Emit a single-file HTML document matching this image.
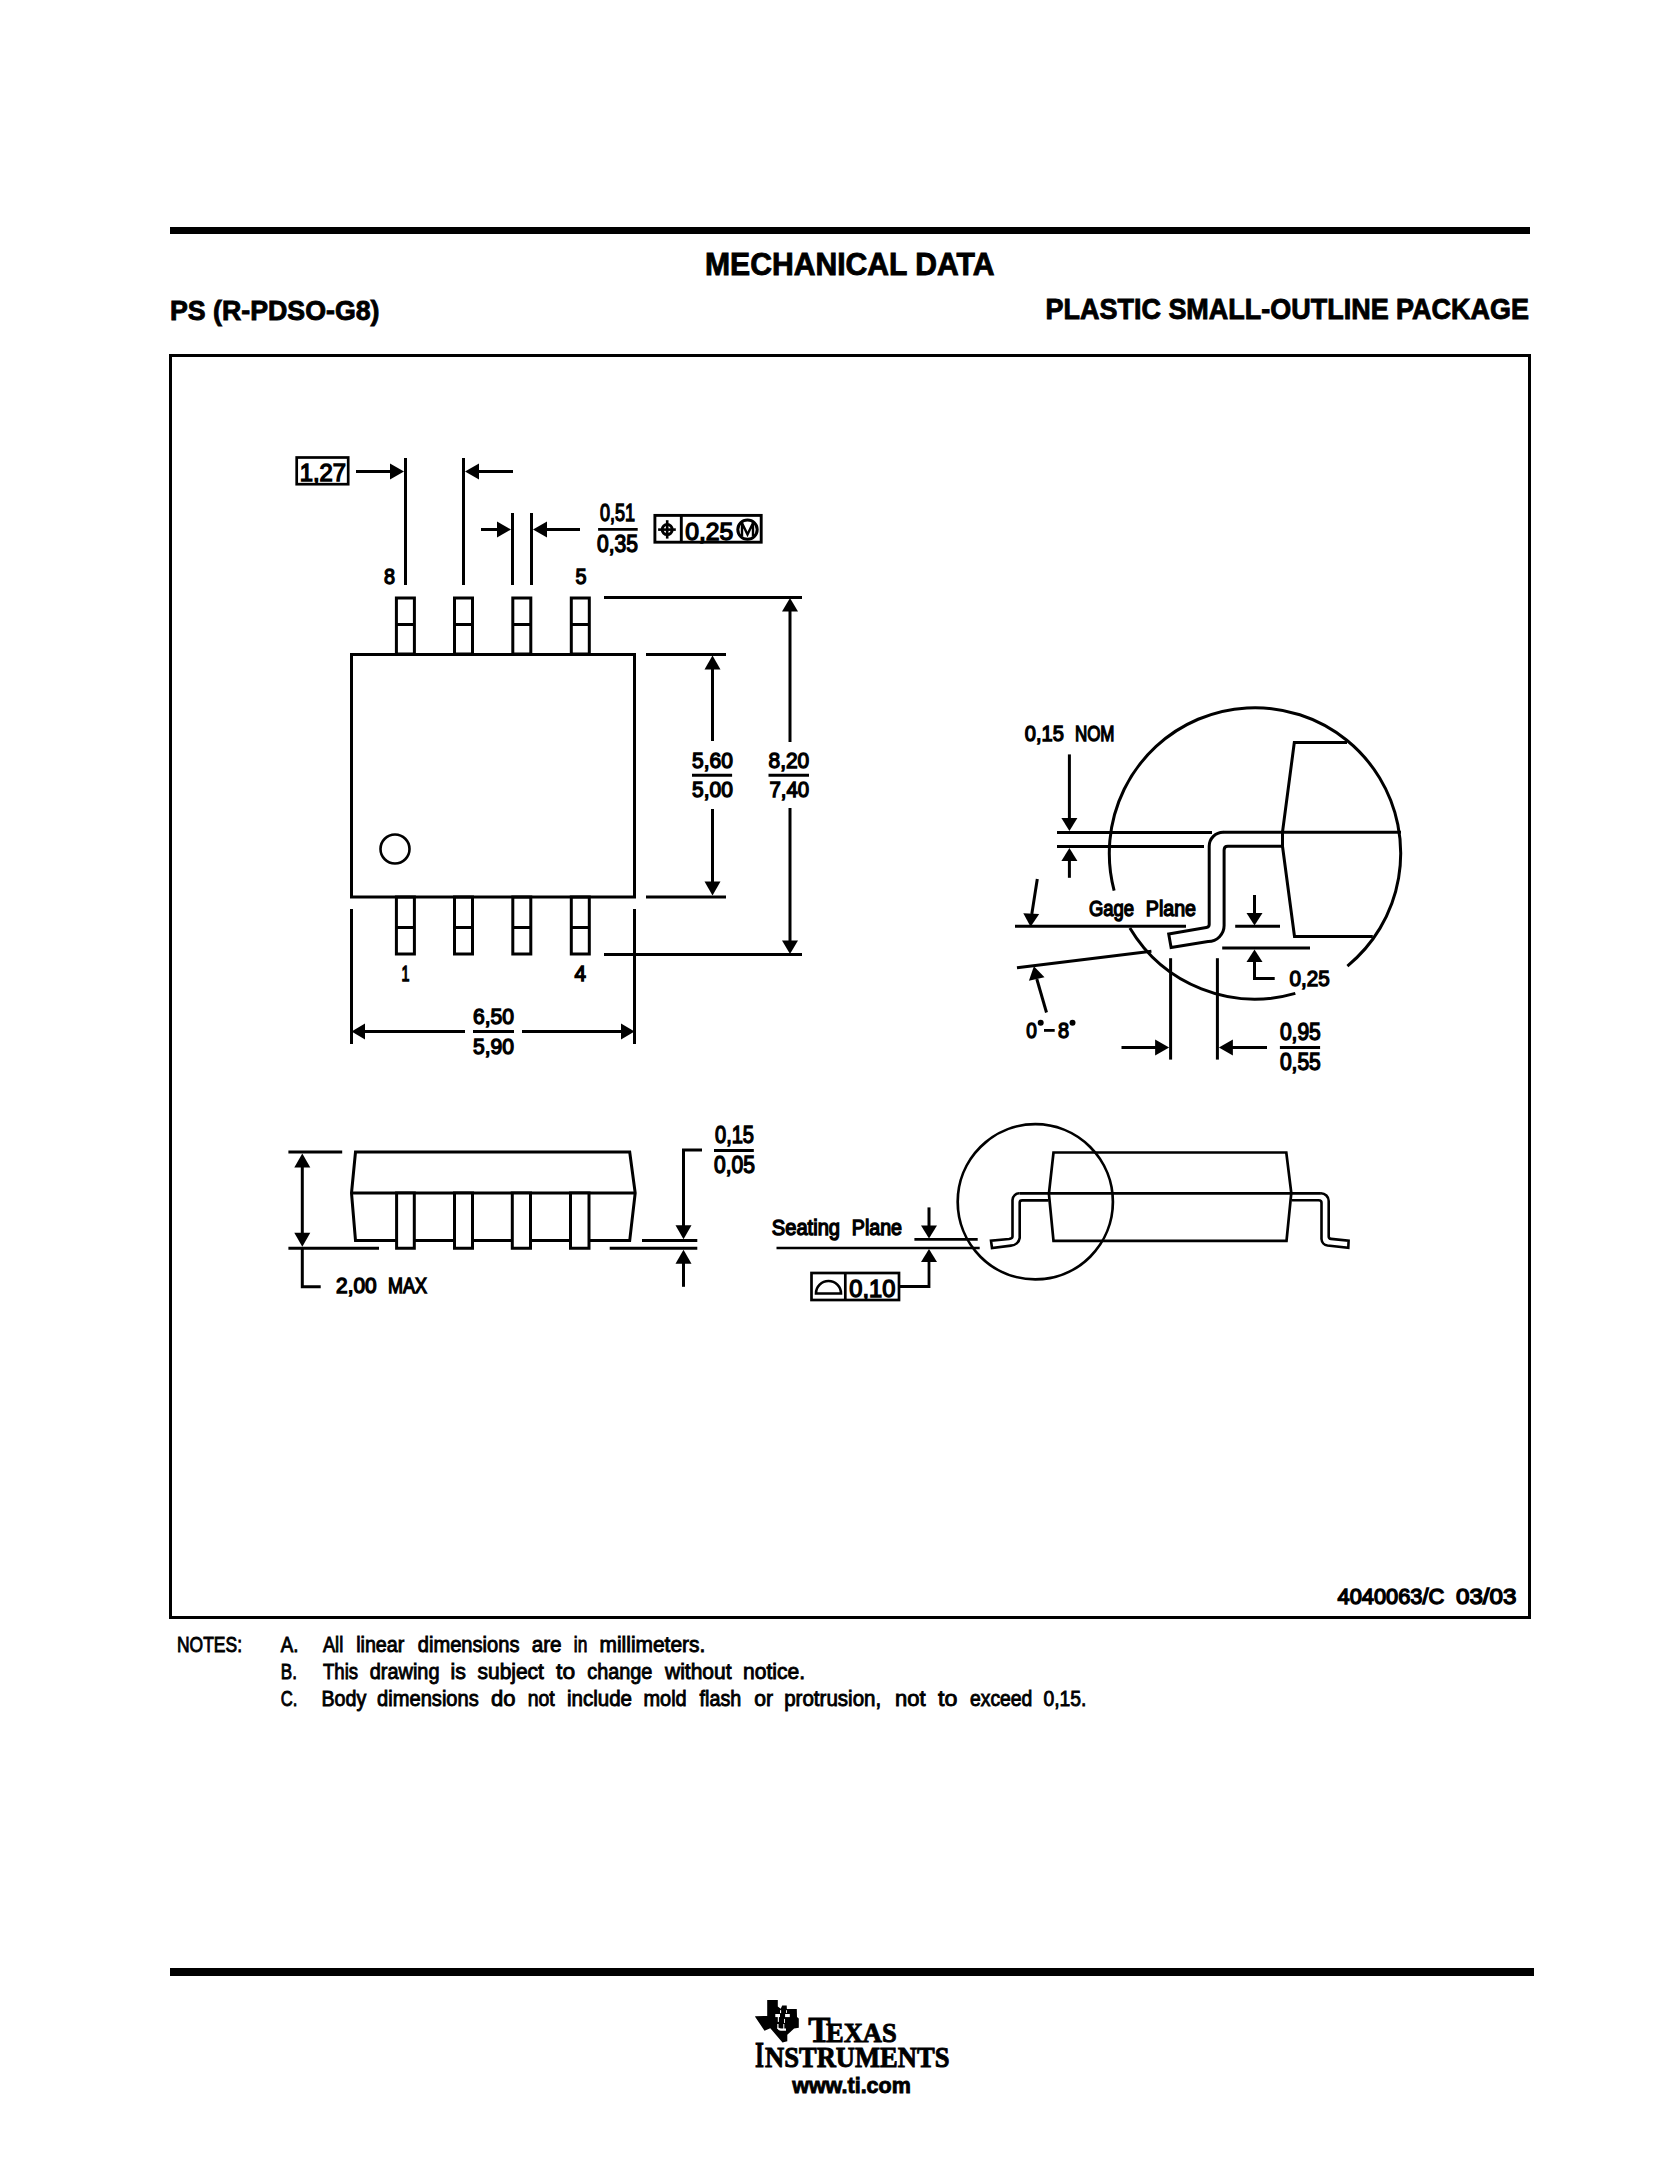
<!DOCTYPE html>
<html><head><meta charset="utf-8"><style>
html,body{margin:0;padding:0;background:#fff;}
svg{display:block;}
.t{font-family:"Liberation Sans",sans-serif;fill:#000;stroke:#000;stroke-width:1.4px;}
.n{stroke-width:0.9px;}
.h{font-family:"Liberation Sans",sans-serif;font-weight:bold;fill:#000;stroke:#000;stroke-width:0.9px;}
.s{font-family:"Liberation Serif",serif;font-weight:bold;fill:#000;stroke:#000;stroke-width:0.9px;}
</style></head><body>
<svg width="1659" height="2159" viewBox="0 0 1659 2159" stroke="#000" stroke-linecap="butt" stroke-linejoin="miter">
<rect x="170" y="227" width="1360" height="7" fill="#000" stroke="none"/>
<text class="h" x="705" y="274.5" font-size="31.5" text-anchor="start" textLength="289.5" lengthAdjust="spacingAndGlyphs">MECHANICAL DATA</text>
<text class="h" x="170" y="320" font-size="28" text-anchor="start" textLength="209.5" lengthAdjust="spacingAndGlyphs">PS (R-PDSO-G8)</text>
<text class="h" x="1045.5" y="319.2" font-size="29.5" text-anchor="start" textLength="483.5" lengthAdjust="spacingAndGlyphs">PLASTIC SMALL-OUTLINE PACKAGE</text>
<rect x="170.5" y="355.5" width="1359" height="1262" fill="none" stroke-width="3.0"/>
<rect x="170" y="1968" width="1364" height="8" fill="#000" stroke="none"/>
<rect x="396.4" y="598" width="18" height="56" fill="none" stroke-width="3.0"/>
<line x1="396.4" y1="624.5" x2="414.4" y2="624.5" stroke-width="3.0"/>
<rect x="396.4" y="897" width="18" height="57" fill="none" stroke-width="3.0"/>
<line x1="396.4" y1="927.5" x2="414.4" y2="927.5" stroke-width="3.0"/>
<rect x="454.5" y="598" width="18" height="56" fill="none" stroke-width="3.0"/>
<line x1="454.5" y1="624.5" x2="472.5" y2="624.5" stroke-width="3.0"/>
<rect x="454.5" y="897" width="18" height="57" fill="none" stroke-width="3.0"/>
<line x1="454.5" y1="927.5" x2="472.5" y2="927.5" stroke-width="3.0"/>
<rect x="512.8" y="598" width="18" height="56" fill="none" stroke-width="3.0"/>
<line x1="512.8" y1="624.5" x2="530.8" y2="624.5" stroke-width="3.0"/>
<rect x="512.8" y="897" width="18" height="57" fill="none" stroke-width="3.0"/>
<line x1="512.8" y1="927.5" x2="530.8" y2="927.5" stroke-width="3.0"/>
<rect x="571.3" y="598" width="18" height="56" fill="none" stroke-width="3.0"/>
<line x1="571.3" y1="624.5" x2="589.3" y2="624.5" stroke-width="3.0"/>
<rect x="571.3" y="897" width="18" height="57" fill="none" stroke-width="3.0"/>
<line x1="571.3" y1="927.5" x2="589.3" y2="927.5" stroke-width="3.0"/>
<rect x="351.5" y="654.5" width="283" height="242.5" fill="none" stroke-width="3.0"/>
<circle cx="395" cy="849" r="14.5" fill="none" stroke-width="2.6"/>
<text class="t" x="384" y="584" font-size="22.3" text-anchor="start" textLength="11" lengthAdjust="spacingAndGlyphs">8</text>
<text class="t" x="575.5" y="584" font-size="22.3" text-anchor="start" textLength="11" lengthAdjust="spacingAndGlyphs">5</text>
<text class="t" x="401.5" y="980.6" font-size="22.3" text-anchor="start" textLength="8" lengthAdjust="spacingAndGlyphs">1</text>
<text class="t" x="574.5" y="980.6" font-size="22.3" text-anchor="start" textLength="11.5" lengthAdjust="spacingAndGlyphs">4</text>
<rect x="296.7" y="457.5" width="51.5" height="26.7" fill="none" stroke-width="2.7"/>
<text class="t" x="299.8" y="481.3" font-size="24" text-anchor="start" textLength="46.2" lengthAdjust="spacingAndGlyphs">1,27</text>
<line x1="405.5" y1="458" x2="405.5" y2="585" stroke-width="3.0"/>
<line x1="463.5" y1="458" x2="463.5" y2="585" stroke-width="3.0"/>
<line x1="356" y1="471.5" x2="392" y2="471.5" stroke-width="3.0"/>
<polygon points="404,471.5 390.0,479.5 390.0,463.5" fill="#000" stroke="none"/>
<line x1="477" y1="471.5" x2="513" y2="471.5" stroke-width="3.0"/>
<polygon points="465,471.5 479.0,463.5 479.0,479.5" fill="#000" stroke="none"/>
<line x1="512.5" y1="513" x2="512.5" y2="585" stroke-width="3.0"/>
<line x1="531.5" y1="513" x2="531.5" y2="585" stroke-width="3.0"/>
<line x1="481" y1="529.5" x2="500" y2="529.5" stroke-width="3.0"/>
<polygon points="511,529.5 497.0,537.5 497.0,521.5" fill="#000" stroke="none"/>
<line x1="544" y1="529.5" x2="580" y2="529.5" stroke-width="3.0"/>
<polygon points="533,529.5 547.0,521.5 547.0,537.5" fill="#000" stroke="none"/>
<text class="t" x="600" y="521.3" font-size="24.3" text-anchor="start" textLength="35" lengthAdjust="spacingAndGlyphs">0,51</text>
<line x1="598.1" y1="529.4" x2="637.7" y2="529.4" stroke-width="2.9"/>
<text class="t" x="597" y="551.5" font-size="24.3" text-anchor="start" textLength="40.9" lengthAdjust="spacingAndGlyphs">0,35</text>
<rect x="654.9" y="515.4" width="106.3" height="26.8" fill="none" stroke-width="2.9"/>
<line x1="681.3" y1="515.4" x2="681.3" y2="542.2" stroke-width="2.9"/>
<circle cx="667.2" cy="529.6" r="5" fill="none" stroke-width="3"/>
<line x1="667.2" y1="520.2" x2="667.2" y2="538.6" stroke-width="2.6"/>
<line x1="658.1" y1="529.6" x2="675.8" y2="529.6" stroke-width="2.6"/>
<text class="t" x="685.3" y="539.7" font-size="24.5" text-anchor="start" textLength="48" lengthAdjust="spacingAndGlyphs">0,25</text>
<circle cx="747.5" cy="529.6" r="9.7" fill="none" stroke-width="3"/>
<polyline points="742,536 742,523 747.5,534.5 753,523 753,536" fill="none" stroke-width="2.4"/>
<line x1="604" y1="597.5" x2="802" y2="597.5" stroke-width="3.0"/>
<line x1="646" y1="654.5" x2="726" y2="654.5" stroke-width="3.0"/>
<line x1="646" y1="897" x2="726" y2="897" stroke-width="3.0"/>
<line x1="604" y1="954.5" x2="802" y2="954.5" stroke-width="3.0"/>
<line x1="712.5" y1="668" x2="712.5" y2="741" stroke-width="3.0"/>
<polygon points="712.5,655.5 720.5,669.5 704.5,669.5" fill="#000" stroke="none"/>
<line x1="712.5" y1="809" x2="712.5" y2="883" stroke-width="3.0"/>
<polygon points="712.5,895.5 704.5,881.5 720.5,881.5" fill="#000" stroke="none"/>
<line x1="790" y1="610" x2="790" y2="742" stroke-width="3.0"/>
<polygon points="790,598 798.0,611.5 782.0,611.5" fill="#000" stroke="none"/>
<line x1="790" y1="808" x2="790" y2="941" stroke-width="3.0"/>
<polygon points="790,954 782.0,940.5 798.0,940.5" fill="#000" stroke="none"/>
<text class="t" x="692" y="768.4" font-size="22.9" text-anchor="start" textLength="40.8" lengthAdjust="spacingAndGlyphs">5,60</text>
<line x1="692" y1="775.3" x2="732.1" y2="775.3" stroke-width="2.9"/>
<text class="t" x="692" y="797.4" font-size="22.9" text-anchor="start" textLength="40.8" lengthAdjust="spacingAndGlyphs">5,00</text>
<text class="t" x="768.5" y="768.4" font-size="22.9" text-anchor="start" textLength="40.7" lengthAdjust="spacingAndGlyphs">8,20</text>
<line x1="768.5" y1="775.3" x2="809" y2="775.3" stroke-width="2.9"/>
<text class="t" x="769.5" y="797.4" font-size="22.9" text-anchor="start" textLength="39.7" lengthAdjust="spacingAndGlyphs">7,40</text>
<line x1="351.5" y1="909" x2="351.5" y2="1044" stroke-width="3.0"/>
<line x1="634.5" y1="909" x2="634.5" y2="1044" stroke-width="3.0"/>
<line x1="364" y1="1031.5" x2="465" y2="1031.5" stroke-width="3.0"/>
<polygon points="351.5,1031.5 365.0,1023.5 365.0,1039.5" fill="#000" stroke="none"/>
<line x1="522" y1="1031.5" x2="622" y2="1031.5" stroke-width="3.0"/>
<polygon points="634.5,1031.5 621.0,1039.5 621.0,1023.5" fill="#000" stroke="none"/>
<text class="t" x="473" y="1024.1" font-size="22.9" text-anchor="start" textLength="41" lengthAdjust="spacingAndGlyphs">6,50</text>
<line x1="473" y1="1031.5" x2="514" y2="1031.5" stroke-width="2.9"/>
<text class="t" x="473" y="1054" font-size="22.9" text-anchor="start" textLength="41" lengthAdjust="spacingAndGlyphs">5,90</text>
<path d="M1114.12,890.57 A145.7,145.7 0 1 1 1347.40,966.05" fill="none" stroke-width="3.0"/>
<path d="M1295.33,993.41 A145.7,145.7 0 0 1 1129.86,928.02" fill="none" stroke-width="3.0"/>
<polyline points="1347,742.6 1294.3,742.6 1282.5,832 1282.5,846.3 1294.5,936.5 1372.8,936.5" fill="none" stroke-width="3.0"/>
<line x1="1223" y1="832.3" x2="1401" y2="832.3" stroke-width="3.0"/>
<path d="M1223.2,832.3 A14,14 0 0 0 1209.2,846.3 L1209.2,924.4 Q1209.2,927 1206.3,927.5 L1168.7,934 L1171.1,947.5 L1208,941.5 A16,16 0 0 0 1224.1,925 L1224.1,850.1 Q1224.1,846.3 1227.8,846.3 L1282.5,846.3" fill="none" stroke-width="3.0"/>
<line x1="1057" y1="832.5" x2="1212" y2="832.5" stroke-width="3.0"/>
<line x1="1057" y1="846.5" x2="1204" y2="846.5" stroke-width="3.0"/>
<line x1="1069.4" y1="754.4" x2="1069.4" y2="819" stroke-width="3.0"/>
<polygon points="1069.4,831 1061.4,818.0 1077.4,818.0" fill="#000" stroke="none"/>
<line x1="1069.4" y1="858" x2="1069.4" y2="877.8" stroke-width="3.0"/>
<polygon points="1069.4,847.9 1077.4,860.9 1061.4,860.9" fill="#000" stroke="none"/>
<text class="t" x="1024.8" y="741.3" font-size="22.3" text-anchor="start" textLength="39" lengthAdjust="spacingAndGlyphs">0,15</text>
<text class="t" x="1074.9" y="741.3" font-size="22.3" text-anchor="start" textLength="39.6" lengthAdjust="spacingAndGlyphs">NOM</text>
<line x1="1015" y1="926.3" x2="1186" y2="926.3" stroke-width="3.0"/>
<line x1="1017" y1="967.7" x2="1151.4" y2="951.3" stroke-width="3.0"/>
<text class="t" x="1089" y="916.1" font-size="22.3" text-anchor="start" textLength="45.1" lengthAdjust="spacingAndGlyphs">Gage</text>
<text class="t" x="1145.8" y="916.1" font-size="22.3" text-anchor="start" textLength="50.2" lengthAdjust="spacingAndGlyphs">Plane</text>
<line x1="1037.3" y1="879" x2="1031.8" y2="914" stroke-width="3.0"/>
<polygon points="1030.6,926.7 1023.3,913.3 1039.2,914.1" fill="#000" stroke="none"/>
<line x1="1046.5" y1="1012.5" x2="1036.8" y2="979" stroke-width="3.0"/>
<polygon points="1033.9,966.3 1044.5,977.3 1028.9,980.7" fill="#000" stroke="none"/>
<text class="t" x="1026.2" y="1038.1" font-size="22.3" text-anchor="start" textLength="10.6" lengthAdjust="spacingAndGlyphs">0</text>
<text class="t" x="1058" y="1038.1" font-size="22.3" text-anchor="start" textLength="11.1" lengthAdjust="spacingAndGlyphs">8</text>
<circle cx="1040.7" cy="1022.7" r="3" fill="#000" stroke="none"/><circle cx="1072.5" cy="1022.7" r="3" fill="#000" stroke="none"/>
<line x1="1044" y1="1030.4" x2="1054.7" y2="1030.4" stroke-width="2.8"/>
<line x1="1235.2" y1="926.3" x2="1280" y2="926.3" stroke-width="3.0"/>
<line x1="1254.5" y1="895" x2="1254.5" y2="913" stroke-width="3.0"/>
<polygon points="1254.5,925.4 1246.5,912.9 1262.5,912.9" fill="#000" stroke="none"/>
<line x1="1222.2" y1="948" x2="1310" y2="948" stroke-width="3.0"/>
<polyline points="1254.5,960 1254.5,978.6 1274.7,978.6" fill="none" stroke-width="3.0"/>
<polygon points="1254.5,949.5 1262.5,962.0 1246.5,962.0" fill="#000" stroke="none"/>
<text class="t" x="1289.6" y="986.3" font-size="22.9" text-anchor="start" textLength="40.2" lengthAdjust="spacingAndGlyphs">0,25</text>
<line x1="1170.6" y1="958.2" x2="1170.6" y2="1059.6" stroke-width="3.0"/>
<line x1="1217.4" y1="958.2" x2="1217.4" y2="1059.6" stroke-width="3.0"/>
<line x1="1121.5" y1="1047.5" x2="1157" y2="1047.5" stroke-width="3.0"/>
<polygon points="1169.1,1047.5 1155.1,1055.5 1155.1,1039.5" fill="#000" stroke="none"/>
<line x1="1231" y1="1047.5" x2="1267" y2="1047.5" stroke-width="3.0"/>
<polygon points="1218.9,1047.5 1232.9,1039.5 1232.9,1055.5" fill="#000" stroke="none"/>
<text class="t" x="1279.9" y="1039.5" font-size="24.3" text-anchor="start" textLength="40.9" lengthAdjust="spacingAndGlyphs">0,95</text>
<line x1="1279.9" y1="1047.5" x2="1320.1" y2="1047.5" stroke-width="2.9"/>
<text class="t" x="1279.9" y="1070.4" font-size="24.3" text-anchor="start" textLength="40.9" lengthAdjust="spacingAndGlyphs">0,55</text>
<polygon points="355.5,1152.1 629.7,1152.1 635.2,1193 629.7,1240.6 355.5,1240.6 351.5,1193" fill="none" stroke-width="3.0"/>
<line x1="351.5" y1="1193" x2="635.2" y2="1193" stroke-width="3.0"/>
<polygon points="396.6,1193 396.6,1248.3 414.3,1248.3 414.3,1193" fill="#fff" stroke-width="3.0"/>
<polygon points="454.5,1193 454.5,1248.3 472.5,1248.3 472.5,1193" fill="#fff" stroke-width="3.0"/>
<polygon points="512.3,1193 512.3,1248.3 530.5,1248.3 530.5,1193" fill="#fff" stroke-width="3.0"/>
<polygon points="570.5,1193 570.5,1248.3 589,1248.3 589,1193" fill="#fff" stroke-width="3.0"/>
<line x1="288.4" y1="1248.3" x2="379" y2="1248.3" stroke-width="3.0"/>
<line x1="609.7" y1="1248.3" x2="697.3" y2="1248.3" stroke-width="3.0"/>
<line x1="288.4" y1="1152" x2="342.2" y2="1152" stroke-width="3.0"/>
<line x1="302.3" y1="1166" x2="302.3" y2="1234" stroke-width="3.0"/>
<polygon points="302.3,1153.5 310.3,1167.5 294.3,1167.5" fill="#000" stroke="none"/>
<polygon points="302.3,1246.8 294.3,1232.8 310.3,1232.8" fill="#000" stroke="none"/>
<polyline points="302.3,1249 302.3,1286.8 320.7,1286.8" fill="none" stroke-width="3.0"/>
<text class="t" x="336.1" y="1292.8" font-size="22.3" text-anchor="start" textLength="40.6" lengthAdjust="spacingAndGlyphs">2,00</text>
<text class="t" x="388" y="1292.8" font-size="22.3" text-anchor="start" textLength="38.9" lengthAdjust="spacingAndGlyphs">MAX</text>
<line x1="642" y1="1240.6" x2="697.3" y2="1240.6" stroke-width="3.0"/>
<polyline points="702,1150 683.5,1150 683.5,1226" fill="none" stroke-width="3.0"/>
<polygon points="683.5,1239.2 675.5,1225.2 691.5,1225.2" fill="#000" stroke="none"/>
<line x1="683.5" y1="1263" x2="683.5" y2="1286.8" stroke-width="3.0"/>
<polygon points="683.5,1249.7 691.5,1263.7 675.5,1263.7" fill="#000" stroke="none"/>
<text class="t" x="715" y="1143.4" font-size="24.3" text-anchor="start" textLength="39" lengthAdjust="spacingAndGlyphs">0,15</text>
<line x1="714" y1="1150.5" x2="753.8" y2="1150.5" stroke-width="2.9"/>
<text class="t" x="714" y="1172.5" font-size="24.3" text-anchor="start" textLength="40.9" lengthAdjust="spacingAndGlyphs">0,05</text>
<circle cx="1035.3" cy="1201.8" r="77.6" fill="none" stroke-width="2.7"/>
<polygon points="1053.5,1152.5 1286.3,1152.5 1291.3,1193 1286.5,1240.9 1053.5,1240.9 1048.9,1193.8" fill="none" stroke-width="2.7"/>
<line x1="1019.7" y1="1193.3" x2="1320.9" y2="1193.3" stroke-width="2.7"/>
<path d="M1019.7,1193.3 A7,7 0 0 0 1012.5,1200 L1012.5,1236.5 Q1012.5,1238.5 1009,1239 L991,1240.6 L992,1248 L1011,1245.6 A9,9 0 0 0 1019.7,1238 L1019.7,1202.5 Q1019.7,1200.4 1022.2,1200.4 L1048.6,1200.4" fill="none" stroke-width="2.6"/>
<path d="M1320.9,1193.3 A7.8,7.8 0 0 1 1328.7,1201 L1328.7,1236.4 Q1328.7,1238.6 1331.1,1238.9 L1348.6,1240.7 L1348.3,1247.9 L1327.5,1245.5 A7,7 0 0 1 1321.5,1239 L1321.5,1202.7 Q1321.5,1200.3 1318.5,1200.3 L1291.8,1200.3" fill="none" stroke-width="2.6"/>
<line x1="776.5" y1="1248" x2="979.7" y2="1248" stroke-width="2.7"/>
<line x1="914.4" y1="1239.4" x2="977.7" y2="1239.4" stroke-width="2.7"/>
<line x1="929" y1="1207.4" x2="929" y2="1227" stroke-width="3.0"/>
<polygon points="929,1238.5 921.0,1225.5 937.0,1225.5" fill="#000" stroke="none"/>
<polyline points="929,1261 929,1286.5 899.7,1286.5" fill="none" stroke-width="2.8"/>
<polygon points="929,1249 937.0,1262.0 921.0,1262.0" fill="#000" stroke="none"/>
<rect x="811.5" y="1273" width="87.5" height="27" fill="none" stroke-width="2.7"/>
<line x1="845.3" y1="1273" x2="845.3" y2="1300" stroke-width="2.7"/>
<path d="M816,1293.5 L841,1293.5 A12.5,12.5 0 0 0 816,1293.5 Z" fill="none" stroke-width="2.6"/>
<text class="t" x="849.3" y="1297.3" font-size="24" text-anchor="start" textLength="46" lengthAdjust="spacingAndGlyphs">0,10</text>
<text class="t" x="771.8" y="1235" font-size="22.3" text-anchor="start" textLength="68.2" lengthAdjust="spacingAndGlyphs">Seating</text>
<text class="t" x="851.8" y="1235" font-size="22.3" text-anchor="start" textLength="50.2" lengthAdjust="spacingAndGlyphs">Plane</text>
<text class="t" x="1337.6" y="1604.3" font-size="22.3" text-anchor="start" textLength="106.6" lengthAdjust="spacingAndGlyphs">4040063/C</text>
<text class="t" x="1456" y="1604.3" font-size="22.3" text-anchor="start" textLength="60.3" lengthAdjust="spacingAndGlyphs">03/03</text>
<text class="t n" x="177" y="1652" font-size="21.8" text-anchor="start" textLength="65" lengthAdjust="spacingAndGlyphs">NOTES:</text>
<text class="t n" x="280.8" y="1651.7" font-size="21.8" text-anchor="start" textLength="17.7" lengthAdjust="spacingAndGlyphs">A.</text>
<text class="t n" x="322.9" y="1651.7" font-size="21.8" text-anchor="start" textLength="20.3" lengthAdjust="spacingAndGlyphs">All</text>
<text class="t n" x="356.2" y="1651.7" font-size="21.8" text-anchor="start" textLength="48.1" lengthAdjust="spacingAndGlyphs">linear</text>
<text class="t n" x="417.8" y="1651.7" font-size="21.8" text-anchor="start" textLength="101.7" lengthAdjust="spacingAndGlyphs">dimensions</text>
<text class="t n" x="531.7" y="1651.7" font-size="21.8" text-anchor="start" textLength="29.9" lengthAdjust="spacingAndGlyphs">are</text>
<text class="t n" x="573.8" y="1651.7" font-size="21.8" text-anchor="start" textLength="13.5" lengthAdjust="spacingAndGlyphs">in</text>
<text class="t n" x="599.5" y="1651.7" font-size="21.8" text-anchor="start" textLength="105.8" lengthAdjust="spacingAndGlyphs">millimeters.</text>
<text class="t n" x="280.8" y="1678.6" font-size="21.8" text-anchor="start" textLength="16.2" lengthAdjust="spacingAndGlyphs">B.</text>
<text class="t n" x="322.9" y="1678.6" font-size="21.8" text-anchor="start" textLength="35.2" lengthAdjust="spacingAndGlyphs">This</text>
<text class="t n" x="369.8" y="1678.6" font-size="21.8" text-anchor="start" textLength="69.7" lengthAdjust="spacingAndGlyphs">drawing</text>
<text class="t n" x="450.4" y="1678.6" font-size="21.8" text-anchor="start" textLength="15.4" lengthAdjust="spacingAndGlyphs">is</text>
<text class="t n" x="477.5" y="1678.6" font-size="21.8" text-anchor="start" textLength="66.4" lengthAdjust="spacingAndGlyphs">subject</text>
<text class="t n" x="556.1" y="1678.6" font-size="21.8" text-anchor="start" textLength="19.0" lengthAdjust="spacingAndGlyphs">to</text>
<text class="t n" x="587.3" y="1678.6" font-size="21.8" text-anchor="start" textLength="65.1" lengthAdjust="spacingAndGlyphs">change</text>
<text class="t n" x="665" y="1678.6" font-size="21.8" text-anchor="start" textLength="66.5" lengthAdjust="spacingAndGlyphs">without</text>
<text class="t n" x="743.1" y="1678.6" font-size="21.8" text-anchor="start" textLength="61.9" lengthAdjust="spacingAndGlyphs">notice.</text>
<text class="t n" x="280.8" y="1705.5" font-size="21.8" text-anchor="start" textLength="16.7" lengthAdjust="spacingAndGlyphs">C.</text>
<text class="t n" x="321.5" y="1705.5" font-size="21.8" text-anchor="start" textLength="44.8" lengthAdjust="spacingAndGlyphs">Body</text>
<text class="t n" x="377.1" y="1705.5" font-size="21.8" text-anchor="start" textLength="101.7" lengthAdjust="spacingAndGlyphs">dimensions</text>
<text class="t n" x="491" y="1705.5" font-size="21.8" text-anchor="start" textLength="24.5" lengthAdjust="spacingAndGlyphs">do</text>
<text class="t n" x="527.7" y="1705.5" font-size="21.8" text-anchor="start" textLength="27.1" lengthAdjust="spacingAndGlyphs">not</text>
<text class="t n" x="567" y="1705.5" font-size="21.8" text-anchor="start" textLength="65" lengthAdjust="spacingAndGlyphs">include</text>
<text class="t n" x="643.5" y="1705.5" font-size="21.8" text-anchor="start" textLength="43.2" lengthAdjust="spacingAndGlyphs">mold</text>
<text class="t n" x="699.6" y="1705.5" font-size="21.8" text-anchor="start" textLength="41.6" lengthAdjust="spacingAndGlyphs">flash</text>
<text class="t n" x="754.2" y="1705.5" font-size="21.8" text-anchor="start" textLength="18.8" lengthAdjust="spacingAndGlyphs">or</text>
<text class="t n" x="784.2" y="1705.5" font-size="21.8" text-anchor="start" textLength="97.0" lengthAdjust="spacingAndGlyphs">protrusion,</text>
<text class="t n" x="895" y="1705.5" font-size="21.8" text-anchor="start" textLength="30.6" lengthAdjust="spacingAndGlyphs">not</text>
<text class="t n" x="938" y="1705.5" font-size="21.8" text-anchor="start" textLength="19.4" lengthAdjust="spacingAndGlyphs">to</text>
<text class="t n" x="970" y="1705.5" font-size="21.8" text-anchor="start" textLength="62.3" lengthAdjust="spacingAndGlyphs">exceed</text>
<text class="t n" x="1043.4" y="1705.5" font-size="21.8" text-anchor="start" textLength="43.0" lengthAdjust="spacingAndGlyphs">0,15.</text>
<text class="s" x="808.2" y="2042.3" font-size="36.5" text-anchor="start" textLength="22.3" lengthAdjust="spacingAndGlyphs">T</text>
<text class="s" x="826" y="2042.3" font-size="28" text-anchor="start" textLength="70.8" lengthAdjust="spacingAndGlyphs">EXAS</text>
<text class="s" x="755.1" y="2066.5" font-size="36.5" text-anchor="start" textLength="9" lengthAdjust="spacingAndGlyphs">I</text>
<text class="s" x="765.1" y="2066.5" font-size="28.5" text-anchor="start" textLength="184.3" lengthAdjust="spacingAndGlyphs">NSTRUMENTS</text>
<text class="h" x="792.2" y="2092.5" font-size="22.3" text-anchor="start" textLength="118.6" lengthAdjust="spacingAndGlyphs">www.ti.com</text>
<polygon points="767.2,2000.1 777.8,2000.1 777.8,2006.6 780.7,2008.7 782.2,2005.5 786.7,2005.5 786.9,2008.9 796.8,2008.9 797,2017.1 798.8,2018.5 798.8,2027.7 794.1,2028.5 787.3,2034.8 787.3,2041.3 782.5,2042.4 770.3,2028.3 764.5,2030.8 755.1,2016.7 755.1,2016.2 767.2,2016" fill="#000" stroke="none"/>
<rect x="780" y="2010.2" width="1.1" height="2.9" fill="#fff" stroke="none"/>
<rect x="786" y="2010.2" width="0.9" height="2.7" fill="#fff" stroke="none"/>
<rect x="775.3" y="2014" width="4.7" height="3.1" fill="#fff" stroke="none"/>
<rect x="785.1" y="2014" width="4.7" height="3.1" fill="#fff" stroke="none"/>
<rect x="777.8" y="2017" width="1.1" height="4.9" fill="#fff" stroke="none"/>
<rect x="784" y="2018.9" width="0.9" height="4.1" fill="#fff" stroke="none"/>
<rect x="777.3" y="2024" width="1.2" height="5.0" fill="#fff" stroke="none"/>
<rect x="783.3" y="2024" width="1.0" height="5.0" fill="#fff" stroke="none"/>
<path d="M777.3,2027.8 Q778,2030.8 781,2030.8 L786,2030.8 L786,2028.6 L781.5,2028.6 Q779.3,2028.6 778.8,2027.8 Z" fill="#fff" stroke="none"/>
</svg>
</body></html>
